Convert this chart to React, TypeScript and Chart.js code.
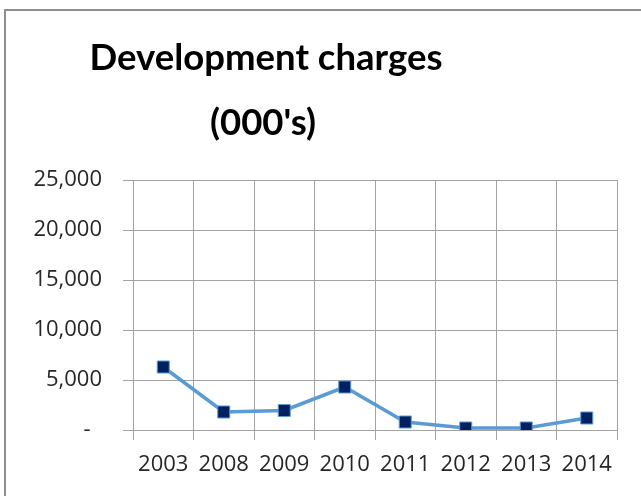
import React, { useEffect, useRef } from "react";
import { Chart, registerables } from "chart.js";

Chart.register(...registerables);

const categories = ["2003", "2008", "2009", "2010", "2011", "2012", "2013", "2014"];
const charges = [6300, 1800, 1950, 4300, 800, 200, 200, 1200];
const titleLines = ["Development charges", "(000's)"];
const yMin = 0;
const yMax = 25000;
const yStep = 5000;

const titlePlugin = {
  id: "excelTitle",
  afterDraw(chart: any) {
    const ctx = chart.ctx;
    ctx.save();
    ctx.fillStyle = "#000000";
    ctx.textAlign = "center";
    ctx.textBaseline = "alphabetic";
    ctx.font = "bold 36.5px Lato";
    ctx.fillText(titleLines[0], 266, 70);
    ctx.fillText(titleLines[1], 263, 135);
    ctx.restore();
  },
};

export default function App() {
  const ref = useRef<HTMLCanvasElement | null>(null);

  useEffect(() => {
    if (!ref.current) return;
    const gridColor = "#a3a3a3";
    const tickFont = { family: "'Open Sans'", size: 22 };
    const chart = new Chart(ref.current, {
      type: "line",
      data: {
        labels: categories,
        datasets: [
          {
            data: charges,
            borderColor: "#5b9bd5",
            borderWidth: 3.5,
            pointStyle: "rect",
            pointRadius: 8.5,
            pointBackgroundColor: "#002060",
            pointBorderColor: "#5b9bd5",
            pointBorderWidth: 1,
            tension: 0,
            fill: false,
          },
        ],
      },
      options: {
        responsive: false,
        animation: false,
        layout: { padding: { top: 180, right: 24, left: 0, bottom: 0 } },
        plugins: {
          legend: { display: false },
          tooltip: { enabled: false },
          title: { display: false },
        },
        scales: {
          x: {
            offset: true,
            grid: {
              offset: true,
              color: gridColor,
              lineWidth: 1,
              tickLength: 10,
              drawTicks: true,
            },
            border: { color: gridColor, width: 1 },
            ticks: {
              color: "#262626",
              font: tickFont,
              padding: 12,
              maxRotation: 0,
              autoSkip: false,
            },
            afterFit: (s: any) => {
              s.height = 66;
            },
          },
          y: {
            min: yMin,
            max: yMax,
            grid: { color: gridColor, lineWidth: 1, tickLength: 10 },
            border: { color: gridColor, width: 1 },
            ticks: {
              stepSize: yStep,
              color: "#262626",
              font: tickFont,
              padding: 21,
              callback: (v: any) => (Number(v) === 0 ? "-  " : Number(v).toLocaleString("en-US")),
            },
            afterFit: (s: any) => {
              s.width = 133;
            },
          },
        },
      },
      plugins: [titlePlugin],
    });
    return () => chart.destroy();
  }, []);

  return (
    <div style={{ position: "fixed", left: 0, top: 0, width: 641, height: 496, background: "#ffffff", overflow: "hidden" }}>
      <canvas ref={ref} width={641} height={496} style={{ position: "absolute", left: 0, top: 0 }} />
      <div
        style={{
          position: "absolute",
          left: 4,
          top: 9,
          width: 700,
          height: 600,
          borderLeft: "2px solid #8e8e8e",
          borderTop: "2px solid #8e8e8e",
          pointerEvents: "none",
        }}
      />
    </div>
  );
}
